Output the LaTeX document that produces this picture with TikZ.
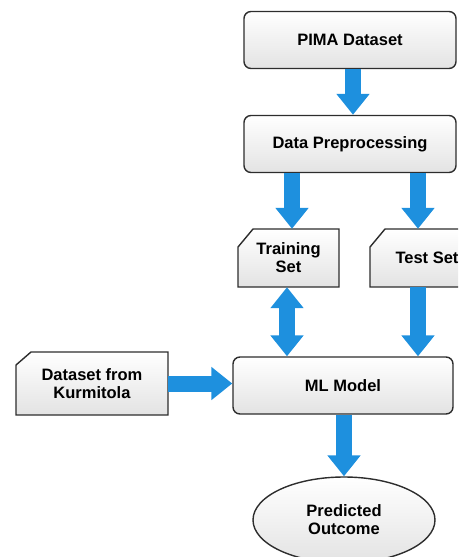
\documentclass[tikz,border=0pt]{standalone}
\usepackage{fontspec}
\setmainfont{Liberation Sans}
\usetikzlibrary{arrows.meta,shapes.geometric}
\definecolor{arrowblue}{RGB}{30,144,222}
\definecolor{edgegray}{RGB}{45,45,45}
\tikzset{
  x=1pt, y=-1pt,
  procbox/.style={draw=edgegray, line width=1.4pt, rounded corners=7pt,
    top color=white, bottom color=gray!22, minimum height=57pt,
    font=\bfseries\fontsize{16.5}{18}\selectfont, align=center, inner sep=2pt},
  cardtext/.style={font=\bfseries\fontsize{16.5}{18}\selectfont, align=center, inner sep=0pt},
  cardshape/.style={draw=edgegray, line width=1.4pt, top color=white, bottom color=gray!22},
  blockarrow/.style={draw=arrowblue, line width=16pt,
    -{Triangle[width=32pt,length=21pt,fill=arrowblue]}},
  blockdouble/.style={draw=arrowblue, line width=16pt,
    {Triangle[width=32pt,length=21pt,fill=arrowblue]}-{Triangle[width=32pt,length=21pt,fill=arrowblue]}},
}
\begin{document}
\begin{tikzpicture}
\useasboundingbox (0,0) rectangle (458,557);
\clip (0,0) rectangle (458,557);

% process boxes
\node[procbox, minimum width=212pt] (pima) at (350,40) {PIMA Dataset};
\node[procbox, minimum width=212pt] (prep) at (350,144) {Data Preprocessing};
\node[procbox, minimum width=220pt] (ml) at (343,385.5) {ML Model};

% card shapes (cut top-left corner)
\path[cardshape] (238,247) -- (253,229) -- (339,229) -- (339,287) -- (238,287) -- cycle;
\node[cardtext, minimum width=101pt, minimum height=58pt] (train) at (288.5,258) {Training\\Set};
\path[cardshape] (370,247) -- (385,229) -- (490,229) -- (490,287) -- (370,287) -- cycle;
\node[cardtext, minimum height=58pt] (test) at (427,258) {Test Set};
\path[cardshape] (16,365) -- (31,352) -- (168,352) -- (168,415) -- (16,415) -- cycle;
\node[cardtext, minimum width=152pt, minimum height=63pt] (kurm) at (92,383.5) {Dataset from\\Kurmitola};

% ellipse
\node[ellipse, draw=edgegray, line width=1.4pt, top color=white, bottom color=gray!22,
  minimum width=182pt, minimum height=86pt, inner sep=0pt,
  font=\bfseries\fontsize{16.5}{18}\selectfont, align=center] (pred) at (344,520) {Predicted\\Outcome};

% connectors
\coordinate (ax1) at (353,0);
\coordinate (ax2) at (292,0);
\coordinate (ax3) at (418,0);
\coordinate (ax4) at (287,0);
\draw[blockarrow] (pima.south -| ax1) -- (prep.north -| ax1);
\draw[blockarrow] (prep.south -| ax2) -- (train.north -| ax2);
\draw[blockarrow] (prep.south -| ax3) -- (test.north -| ax3);
\draw[blockdouble] (train.south -| ax4) -- (ml.north -| ax4);
\draw[blockarrow] (test.south -| ax3) -- (ml.north -| ax3);
\draw[blockarrow] (kurm.east) -- (ml.west |- kurm.east);
\draw[blockarrow] (ml.south -| pred.north) -- (pred.north);
\end{tikzpicture}
\end{document}
